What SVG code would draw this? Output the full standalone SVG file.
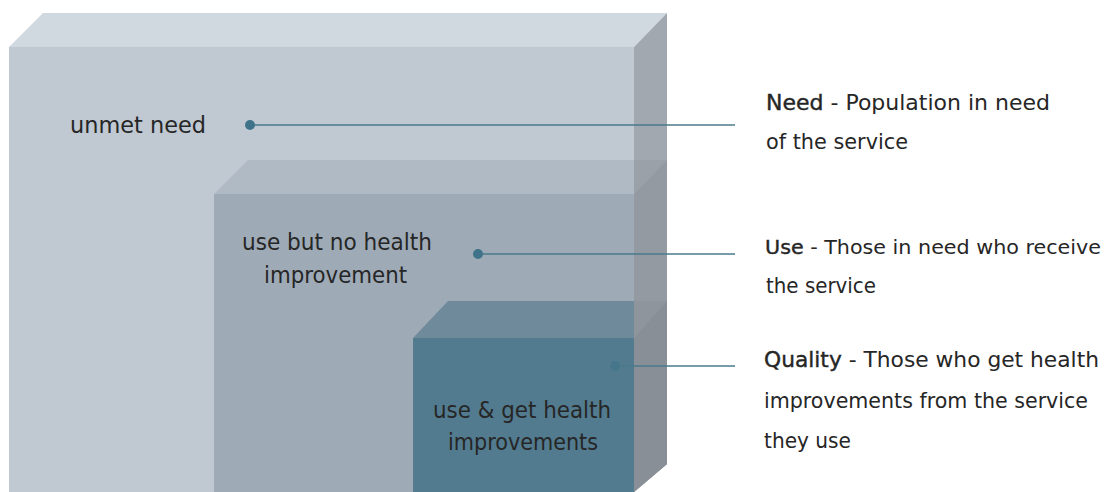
<svg xmlns="http://www.w3.org/2000/svg" width="1113" height="492" viewBox="0 0 1113 492">
<style>
.lbl{font-family:"DejaVu Sans","Liberation Sans",sans-serif;font-size:22px;fill:#262626}
.big{font-size:23px}
.key{stroke:#262626;stroke-width:0.4}
.conn{stroke:#4a7a8c;stroke-width:1.5;fill:none}
.dot{fill:#3f7389}
</style>
<rect width="1113" height="492" fill="#ffffff"/>
<g id="need-box">
<polygon points="43,13 667,13 634,47 9,47" fill="#d0d8e0"/>
<rect x="9" y="47" width="625" height="445" fill="#c0c8d2"/>
<polygon points="634,47 667,13 667,464 634,492" fill="#a1a8b0"/>
<text class="lbl big" x="70" y="133" textLength="136" lengthAdjust="spacingAndGlyphs">unmet need</text>
</g>
<g id="use-box">
<polygon points="248,160 634,160 634,194 214,194" fill="#afbac4"/>
<rect x="214" y="194" width="420" height="298" fill="#9eabb7"/>
<polygon points="634,160 667,160 634,194" fill="#9aa1a9"/>
<polygon points="634,194 667,160 667,464 634,492" fill="#939aa2"/>
<text class="lbl big" x="242" y="250" textLength="190" lengthAdjust="spacingAndGlyphs">use but no health</text>
<text class="lbl big" x="264" y="283" textLength="143" lengthAdjust="spacingAndGlyphs">improvement</text>
</g>
<g id="quality-box">
<polygon points="448,301 634,301 634,338 413,338" fill="#6f8a9b"/>
<rect x="413" y="338" width="221" height="154" fill="#527b8f"/>
<polygon points="634,301 667,301 634,338" fill="#8e959d"/>
<polygon points="634,338 667,301 667,464 634,492" fill="#888f97"/>
<text class="lbl big" x="433" y="418" textLength="178" lengthAdjust="spacingAndGlyphs">use &amp; get health</text>
<text class="lbl big" x="448" y="450" textLength="150" lengthAdjust="spacingAndGlyphs">improvements</text>
</g>
<g id="connectors">
<line class="conn" x1="250" y1="125" x2="735" y2="125"/>
<circle class="dot" cx="250" cy="125" r="5"/>
<line class="conn" x1="478" y1="254" x2="735" y2="254"/>
<circle class="dot" cx="478" cy="254" r="5"/>
<line class="conn" x1="615" y1="366" x2="735" y2="366"/>
<circle class="dot" cx="615" cy="366" r="5" opacity="0.6"/>
</g>
<g id="need-label">
<text class="lbl" x="766" y="110" textLength="284" lengthAdjust="spacingAndGlyphs"><tspan class="key">Need</tspan> - Population in need</text>
<text class="lbl" x="766" y="149" textLength="142" lengthAdjust="spacingAndGlyphs">of the service</text>
</g>
<g id="use-label">
<text class="lbl" x="765" y="254" style="font-size:20px" textLength="336" lengthAdjust="spacingAndGlyphs"><tspan class="key">Use</tspan> - Those in need who receive</text>
<text class="lbl" x="766" y="293" textLength="110" lengthAdjust="spacingAndGlyphs">the service</text>
</g>
<g id="quality-label">
<text class="lbl" x="764" y="367" textLength="335" lengthAdjust="spacingAndGlyphs"><tspan class="key">Quality</tspan>  - Those who get health</text>
<text class="lbl" x="764" y="408" textLength="324" lengthAdjust="spacingAndGlyphs">improvements from the service</text>
<text class="lbl" x="764" y="448" textLength="87" lengthAdjust="spacingAndGlyphs">they use</text>
</g>
</svg>
